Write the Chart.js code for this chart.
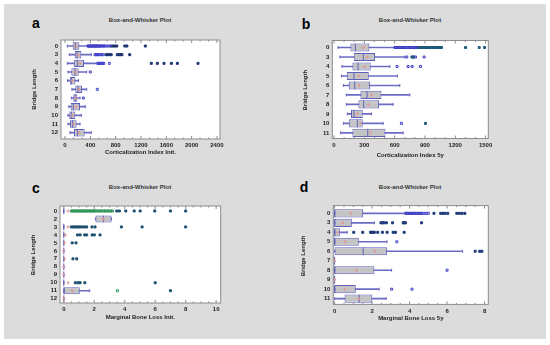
<!DOCTYPE html>
<html>
<head>
<meta charset="utf-8">
<script src="https://cdn.jsdelivr.net/npm/chart.js@4.4.0/dist/chart.umd.min.js"></script>
<style>
  body { margin: 0; background: #fff; width: 550px; height: 345px; position: relative; overflow: hidden;
         font-family: "Liberation Sans", Arial, sans-serif; }
  #bg { position: absolute; left: 4px; top: 4px; width: 542px; height: 335px; background: #dcdcdc; }
  canvas { position: absolute; }
  .lbl { position: absolute; transform: translate(-50%, -50%); white-space: nowrap; }
  .letter { font-size: 14px; font-weight: bold; color: #000; }
  .ttl { font-size: 6px; font-weight: bold; color: #333; }
</style>
</head>
<body>
<div id="bg"></div>

<div class="lbl letter" style="left:36px;top:23px">a</div>
<div class="lbl letter" style="left:306px;top:24px">b</div>
<div class="lbl letter" style="left:36px;top:188px">c</div>
<div class="lbl letter" style="left:304px;top:187px">d</div>

<div class="lbl ttl" style="left:140px;top:20px">Box-and-Whisker Plot</div>
<div class="lbl ttl" style="left:410px;top:20px">Box-and-Whisker Plot</div>
<div class="lbl ttl" style="left:140px;top:187px">Box-and-Whisker Plot</div>
<div class="lbl ttl" style="left:410px;top:187px">Box-and-Whisker Plot</div>

<canvas id="ca" width="275" height="172" style="left:0;top:0"></canvas>
<canvas id="cb" width="275" height="172" style="left:275px;top:0"></canvas>
<canvas id="cc" width="275" height="173" style="left:0;top:172px"></canvas>
<canvas id="cd" width="275" height="173" style="left:275px;top:172px"></canvas>

<script>
// ---- a: Corticalization Index Init.
const aCats = ['0', '3', '4', '5', '6', '7', '8', '9', '10', '11', '12'];
const aMin  = [37, 68, 37, 47, 40, 110, 100, 60, 47, 47, 80];
const aQ1   = [121, 153, 140, 100, 75, 163, 131, 89, 68, 79, 142];
const aMed  = [163, 190, 195, 158, 100, 205, 163, 131, 100, 120, 195];
const aQ3   = [226, 258, 300, 216, 165, 268, 195, 237, 163, 184, 311];
const aMax  = [352, 415, 510, 342, 215, 343, 237, 321, 258, 237, 415];
const aMean = [177, 205, 237, 170, 115, 226, 170, 180, 115, 135, 226];
const aNear = [
  [365, 378, 391, 402, 414, 429, 440, 453, 466, 477, 491, 503, 517, 531, 545, 560, 574, 593, 611, 628, 653, 681, 711],
  [474, 493, 511, 530, 556, 581, 605],
  [522, 541, 557, 576, 596, 612, 700],
  [400], [], [510], [290], [], [], [], []
];
const aFar = [
  [735, 762, 790, 818, 945, 978, 1269],
  [652, 672, 701, 730, 826, 851, 878, 900, 1022],
  [1363, 1458, 1564, 1680, 1775, 2101],
  [], [], [], [], [], [], [], []
];
const aTicks = [0, 400, 800, 1200, 1600, 2000, 2400];

// ---- b: Corticalization Index 5y
const bCats = ['0', '3', '4', '5', '6', '7', '8', '9', '10', '11'];
const bMin  = [40, 59, 79, 73, 93, 122, 122, 132, 93, 66];
const bQ1   = [162, 195, 182, 126, 146, 261, 241, 168, 146, 182];
const bMed  = [211, 290, 238, 198, 205, 327, 294, 198, 231, 334];
const bQ3   = [350, 406, 363, 344, 357, 469, 446, 284, 284, 509];
const bMax  = [601, 700, 552, 628, 651, 750, 585, 370, 486, 684];
const bMean = [290, 330, 304, 244, 251, 370, 340, 231, 261, 363];
const bNear = [
  [603, 612, 625, 636, 647, 661, 672, 685, 696, 709, 722, 733, 745, 758, 771, 782, 794, 806, 818],
  [720, 806, 892],
  [624, 733, 773, 856],
  [], [], [], [], [], [667], []
];
const bFar = [
  [832, 846, 858, 873, 886, 901, 914, 931, 945, 962, 979, 994, 1012, 1029, 1047, 1064, 1302, 1437, 1490],
  [771, 780, 790],
  [], [], [], [], [], [], [905], []
];
const bTicks = [0, 300, 600, 900, 1200, 1500];

// ---- c: Marginal Bone Loss Init.
const cCats = ['0', '2', '3', '4', '5', '6', '7', '8', '9', '10', '11', '12'];
const cMin  = [0, 2.08, 0, 0, 0, 0, 0, 0, 0, 0, 0, 0];
const cQ1   = [0, 2.08, 0, 0, 0, 0, 0, 0, 0, 0, 0, 0];
const cMed  = [0, 2.6, 0, 0, 0, 0, 0, 0, 0, 0, 0, 0];
const cQ3   = [0, 3.13, 0, 0, 0, 0, 0, 0, 0, 0, 1.05, 0];
const cMax  = [0, 3.13, 0, 0, 0, 0, 0, 0, 0, 0, 1.7, 0];
const cMean = [0.28, 2.6, 0.28, 0.1, 0.05, 0, 0.05, 0, 0, 0.28, 0.55, 0];
const cNear = [
  [0.5, 0.57, 0.66, 0.74, 0.81, 0.9, 0.98, 1.05, 1.14, 1.22, 1.3, 1.37, 1.46, 1.54, 1.61, 1.7, 1.78, 1.87,
   1.94, 2.02, 2.1, 2.2, 2.3, 2.4, 2.5, 2.61, 2.7, 2.8, 2.9, 3.0, 3.1, 3.2],
  [], [], [], [], [], [], [], [], [], [3.52], []
];
const cFar = [
  [3.48, 3.65, 4.07, 4.62, 5.01, 5.97, 7.0, 8.0],
  [],
  [0.5, 0.6, 0.7, 0.8, 0.9, 1.0, 1.12, 1.25, 1.38, 1.5, 1.85, 2.05, 3.78, 5.14, 8.0],
  [0.9, 1.07, 1.37, 1.5, 1.86, 2.0, 2.38],
  [0.55, 0.8], [], [0.6, 0.85], [], [],
  [0.76, 0.94, 1.07, 1.38, 6.0],
  [7.0], []
];
const cTicks = [0, 2, 4, 6, 8, 10];

// ---- d: Marginal Bone Loss 5y
const dCats = ['0', '3', '4', '5', '6', '7', '8', '9', '10', '11'];
const dMin  = [0, 0, 0, 0, 0, 0, 0, 0, 0, 0];
const dQ1   = [0, 0, 0, 0, 0, 0, 0, 0, 0, 0.53];
const dMed  = [0, 0, 0, 0, 1.52, 0, 0, 0, 0, 1.31];
const dQ3   = [1.52, 0.92, 0.28, 1.29, 2.79, 0, 2.12, 0, 1.13, 2.01];
const dMax  = [3.78, 2.12, 0.67, 2.79, 6.83, 0, 3.04, 0, 2.37, 2.75];
const dMean = [0.88, 0.42, 0.18, 0.56, 2.15, 0, 1.17, 0, 0.53, 1.3];
const dNear = [
  [3.8, 3.86, 3.92, 3.99, 4.04, 4.1, 4.17, 4.22, 4.3, 4.37, 4.44, 4.51, 4.58, 4.66, 4.75, 4.88, 5.0],
  [], [], [3.32], [], [], [6.0], [], [3.04, 4.13], []
];
const dFar = [
  [5.3, 5.66, 5.78, 5.9, 6.04, 6.52, 6.66, 6.8, 6.95],
  [2.47, 2.55, 2.63, 2.76, 3.09, 3.66, 3.72, 3.78, 4.64],
  [1.02, 1.5, 1.92, 1.98, 2.05, 2.12, 2.3, 2.55, 2.8, 3.12, 3.25, 3.71],
  [], [7.5, 7.74, 7.86], [], [], [], [], []
];
const dTicks = [0, 2, 4, 6, 8];

const boxFill = '#c4c4c4';
const boxLine = '#6060bc';
const whiskerCol = '#6b6bc4';
const meanCol = '#e09494';
const frameCol = '#8c8c8c';
const textCol = '#222';

Chart.defaults.font.family = '"Liberation Sans", Arial, sans-serif';

// white plot box, grey frame and inward tick marks
const framePlugin = {
  id: 'frame',
  beforeDatasetsDraw(chart, args, opts) {
    const a = chart.chartArea, ctx = chart.ctx;
    ctx.save();
    ctx.fillStyle = '#fff';
    ctx.fillRect(a.left, a.top - opts.padT, a.right - a.left, a.bottom - a.top + opts.padT + opts.padB);
    ctx.restore();
  },
  afterDatasetsDraw(chart, args, opts) {
    const a = chart.chartArea, ctx = chart.ctx, xs = chart.scales.x;
    const top = a.top - opts.padT, bot = a.bottom + opts.padB;
    ctx.save();
    ctx.strokeStyle = frameCol;
    ctx.lineWidth = 1;
    ctx.strokeRect(a.left, top, a.right - a.left, bot - top);
    const t = opts.ticks;
    ctx.beginPath();
    for (let i = 0; i < t.length; i++) {
      const px = xs.getPixelForValue(t[i]);
      ctx.moveTo(px, bot); ctx.lineTo(px, bot - 3);
      ctx.moveTo(px, top); ctx.lineTo(px, top + 3);
      if (i < t.length - 1) {
        for (let k = 1; k < opts.minor; k++) {
          const mx = xs.getPixelForValue(t[i] + (t[i + 1] - t[i]) * k / opts.minor);
          ctx.moveTo(mx, bot); ctx.lineTo(mx, bot - 1.5);
          ctx.moveTo(mx, top); ctx.lineTo(mx, top + 1.5);
        }
      }
    }
    ctx.stroke();
    ctx.restore();
  }
};

function makePanel(id, cats, mins, q1s, meds, q3s, maxs, means, near, far, ticks, g) {
  const canvas = document.getElementById(id);
  const W = canvas.width, H = canvas.height;
  const rows = vals => cats.map((c, i) => ({ x: vals[i], y: c }));
  const pts = lists => cats.flatMap((c, i) => lists[i].map(v => ({ x: v, y: c })));
  const halfBox = ctx => {
    const s = ctx.chart.scales.y;
    return Math.abs(s.getPixelForValue(1) - s.getPixelForValue(0)) * 0.42;
  };

  const leftPad = g.yTitleX - 3.6;
  const yW = g.l - leftPad;
  const tickPad = g.tickY - g.b - 3.6;
  const xH = g.xTitleY + 3.6 - g.b;
  const bottomPad = H - (g.xTitleY + 3.6);
  const smallFont = { size: 6, weight: 'bold' };

  new Chart(canvas, {
    type: 'bar',
    data: {
      labels: cats,
      datasets: [
        { type: 'bar', data: cats.map((c, i) => [mins[i], maxs[i]]), backgroundColor: whiskerCol,
          borderWidth: 0, barThickness: 1, grouped: false, order: 5 },
        { type: 'bar', data: cats.map((c, i) => [q1s[i], q3s[i]]), backgroundColor: boxFill,
          borderColor: boxLine, borderWidth: 1, borderSkipped: false,
          barPercentage: 0.86, categoryPercentage: 1, grouped: false, order: 4 },
        { type: 'scatter', data: rows(mins).concat(rows(maxs)), pointStyle: 'line', rotation: 90,
          radius: 1.5, borderColor: whiskerCol, borderWidth: 1, order: 3 },
        { type: 'scatter', data: rows(meds), pointStyle: 'line', rotation: 90,
          radius: halfBox, borderColor: boxLine, borderWidth: 1, order: 2 },
        { type: 'scatter', data: rows(means), pointStyle: 'cross', radius: 1.6,
          borderColor: meanCol, borderWidth: 1, order: 1 },
        { type: 'scatter', data: pts(near), pointStyle: 'rect', radius: 1.4,
          borderColor: g.nearCol, backgroundColor: 'rgba(0,0,0,0)', borderWidth: 1, order: 0 },
        { type: 'scatter', data: pts(far), pointStyle: 'rect', radius: 1.4,
          borderColor: g.farCol, backgroundColor: g.farCol, borderWidth: 1, order: 0 }
      ]
    },
    options: {
      indexAxis: 'y',
      responsive: false,
      animation: false,
      devicePixelRatio: 1,
      layout: { padding: { left: leftPad, right: W - g.r, top: g.t, bottom: bottomPad } },
      plugins: {
        legend: { display: false },
        tooltip: { enabled: false },
        frame: { padT: g.padT, padB: g.padB, ticks: ticks, minor: g.minor }
      },
      scales: {
        x: {
          type: 'linear', min: g.xmin, max: g.xmax,
          afterBuildTicks: s => { s.ticks = ticks.map(v => ({ value: v })); },
          afterFit: s => { s.height = xH; },
          grid: { display: false, drawTicks: false },
          border: { display: false },
          ticks: { padding: tickPad, font: smallFont, color: textCol, maxRotation: 0, autoSkip: false,
                   callback: v => String(v) },
          title: { display: true, text: g.xTitle, font: smallFont, color: textCol, padding: 0 }
        },
        y: {
          type: 'category', offset: true,
          afterFit: s => { s.width = yW; },
          grid: { display: false, drawTicks: false },
          border: { display: false },
          ticks: { padding: 3, font: smallFont, color: textCol, autoSkip: false },
          title: { display: true, text: 'Bridge Length', font: smallFont, color: textCol, padding: 0 }
        }
      }
    },
    plugins: [framePlugin]
  });
}

makePanel('ca', aCats, aMin, aQ1, aMed, aQ3, aMax, aMean, aNear, aFar, aTicks, {
  l: 61, r: 220, t: 41.7, b: 137, padT: 1.7, padB: 2,
  yTitleX: 34, tickY: 145.7, xTitleY: 152.7, xmin: -63, xmax: 2448, minor: 3,
  xTitle: 'Corticalization Index Init.', nearCol: '#4040c8', farCol: '#1c3470'
});
makePanel('cb', bCats, bMin, bQ1, bMed, bQ3, bMax, bMean, bNear, bFar, bTicks, {
  l: 57.3, r: 213.3, t: 42.8, b: 137.6, padT: 2.3, padB: 0.9,
  yTitleX: 30, tickY: 145.7, xTitleY: 155, xmin: -17, xmax: 1527, minor: 3,
  xTitle: 'Corticalization Index 5y', nearCol: '#4040c8', farCol: '#1d5a7a'
});
makePanel('cc', cCats, cMin, cQ1, cMed, cQ3, cMax, cMean, cNear, cFar, cTicks, {
  l: 60, r: 220.7, t: 35, b: 130.7, padT: 1, padB: 0.3,
  yTitleX: 33, tickY: 137.3, xTitleY: 145.7, xmin: -0.25, xmax: 10.3, minor: 4,
  xTitle: 'Marginal Bone Loss Init.', nearCol: '#2e9456', farCol: '#1f5070'
});
makePanel('cd', dCats, dMin, dQ1, dMed, dQ3, dMax, dMean, dNear, dFar, dTicks, {
  l: 58.3, r: 213.3, t: 36.6, b: 131.4, padT: 3, padB: 1,
  yTitleX: 28, tickY: 139.3, xTitleY: 146.7, xmin: -0.07, xmax: 8.2, minor: 4,
  xTitle: 'Marginal Bone Loss 5y', nearCol: '#4040c8', farCol: '#1c3a78'
});
</script>
</body>
</html>
